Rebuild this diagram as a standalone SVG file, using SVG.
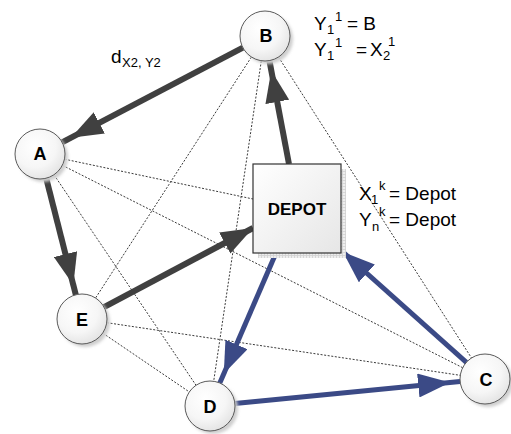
<svg xmlns="http://www.w3.org/2000/svg" width="511" height="434" viewBox="0 0 511 434">
<style>
.dot{stroke:#3a3a3a;stroke-width:1;stroke-dasharray:2 1.6;fill:none}
.thk{stroke:#404040;stroke-width:6;fill:none}
.blu{stroke:#3B4A86;stroke-width:5;fill:none}
.node{fill:url(#cg);stroke:#5a5a5a;stroke-width:1}
.shd{fill:#cfcfcf;filter:url(#blur)}
.lbl{font-family:"Liberation Sans",Arial,sans-serif;font-weight:bold;font-size:18px;text-anchor:middle;fill:#000}
.ann{font-family:"Liberation Sans",Arial,sans-serif;font-size:19px;fill:#000}
.sub{font-size:13px}
</style>
<defs>
<radialGradient id="cg" cx="0.4" cy="0.35" r="0.7">
<stop offset="0" stop-color="#ffffff"/>
<stop offset="0.6" stop-color="#f6f6f6"/>
<stop offset="1" stop-color="#e2e2e2"/>
</radialGradient>
<linearGradient id="bg" x1="0" y1="0" x2="1" y2="1">
<stop offset="0" stop-color="#ffffff"/>
<stop offset="1" stop-color="#e6e6e6"/>
</linearGradient>
<filter id="blur" x="-20%" y="-20%" width="140%" height="140%"><feGaussianBlur stdDeviation="1.5"/></filter>
<pattern id="grid" width="3" height="3" patternUnits="userSpaceOnUse">
<rect width="3" height="3" fill="#eeeeee"/>
<path d="M0,0.5H3M0.5,0V3" stroke="#d0d0d0" stroke-width="0.8"/>
</pattern>
<marker id="ahD" viewBox="0 0 44 24" markerWidth="44" markerHeight="24" refX="42" refY="12" orient="auto" markerUnits="userSpaceOnUse"><path d="M0,0 L32,12 L0,24 z" fill="#404040"/></marker>
<marker id="ahD0" viewBox="0 0 44 24" markerWidth="44" markerHeight="24" refX="32" refY="12" orient="auto" markerUnits="userSpaceOnUse"><path d="M0,0 L32,12 L0,24 z" fill="#404040"/></marker>
<marker id="ahB" viewBox="0 0 44 24" markerWidth="44" markerHeight="24" refX="42" refY="12" orient="auto" markerUnits="userSpaceOnUse"><path d="M0,0 L32,12 L0,24 z" fill="#3B4A86"/></marker>
<marker id="ahB0" viewBox="0 0 44 24" markerWidth="44" markerHeight="24" refX="32" refY="12" orient="auto" markerUnits="userSpaceOnUse"><path d="M0,0 L32,12 L0,24 z" fill="#3B4A86"/></marker>
</defs>
<rect width="511" height="434" fill="#ffffff"/>
<g id="connectors">
<line class="dot" x1="40" y1="154" x2="253" y2="199"/>
<line class="dot" x1="40" y1="154" x2="485" y2="379"/>
<line class="dot" x1="40" y1="154" x2="210" y2="406"/>
<line class="dot" x1="265" y1="36" x2="82" y2="319"/>
<line class="dot" x1="265" y1="36" x2="210" y2="406"/>
<line class="dot" x1="265" y1="36" x2="485" y2="379"/>
<line class="dot" x1="82" y1="319" x2="210" y2="406"/>
<line class="dot" x1="82" y1="319" x2="485" y2="379"/>
<line class="thk" x1="242.9" y1="47.6" x2="62.1" y2="142.4" marker-end="url(#ahD)"/>
<line class="thk" x1="46.2" y1="178.2" x2="75.8" y2="294.8" marker-end="url(#ahD)"/>
<line class="thk" x1="104" y1="307.2" x2="253" y2="228" marker-end="url(#ahD0)"/>
<line class="thk" x1="289" y1="164" x2="269.4" y2="60.6" marker-end="url(#ahD)"/>
<line class="blu" x1="276" y1="253" x2="219.8" y2="383" marker-end="url(#ahB)"/>
<line class="blu" x1="234.9" y1="403.6" x2="460.1" y2="381.4" marker-end="url(#ahB)"/>
<line class="blu" x1="466.4" y1="362.3" x2="343" y2="252" marker-end="url(#ahB0)"/>
</g>
<g id="node-DEPOT">
<rect x="258" y="169" width="88" height="89" fill="url(#grid)"/>
<rect x="253" y="164" width="88" height="89" fill="url(#bg)" stroke="#333333" stroke-width="1.2"/>
<text class="lbl" x="297" y="215" style="font-size:17px">DEPOT</text>
</g>
<g id="node-B">
<circle class="shd" cx="268" cy="39" r="25"/>
<circle class="node" cx="265" cy="36" r="25"/>
<text class="lbl" x="266" y="42">B</text>
</g>
<g id="node-A">
<circle class="shd" cx="43" cy="157" r="25"/>
<circle class="node" cx="40" cy="154" r="25"/>
<text class="lbl" x="40" y="160">A</text>
</g>
<g id="node-E">
<circle class="shd" cx="85" cy="322" r="25"/>
<circle class="node" cx="82" cy="319" r="25"/>
<text class="lbl" x="82" y="326">E</text>
</g>
<g id="node-D">
<circle class="shd" cx="213" cy="409" r="25"/>
<circle class="node" cx="210" cy="406" r="25"/>
<text class="lbl" x="210" y="413">D</text>
</g>
<g id="node-C">
<circle class="shd" cx="488" cy="382" r="25"/>
<circle class="node" cx="485" cy="379" r="25"/>
<text class="lbl" x="486" y="386">C</text>
</g>
<g id="annotations">
<text class="ann" x="314" y="30">Y<tspan class="sub" x="327" y="34">1</tspan><tspan class="sub" x="335" y="21">1</tspan><tspan x="347" y="30">= B</tspan></text>
<text class="ann" x="314" y="56">Y<tspan class="sub" x="327" y="60">1</tspan><tspan class="sub" x="335" y="47">1</tspan><tspan x="356" y="56">=</tspan><tspan x="370" y="56">X</tspan><tspan class="sub" x="383" y="60">2</tspan><tspan class="sub" x="388" y="46">1</tspan></text>
<text class="ann" x="111" y="63">d<tspan class="sub" x="122" y="67">X2, Y2</tspan></text>
<text class="ann" x="359" y="200">X<tspan class="sub" x="371" y="204">1</tspan><tspan class="sub" x="379" y="190">k</tspan><tspan x="389" y="200">= Depot</tspan></text>
<text class="ann" x="359" y="226">Y<tspan class="sub" x="372" y="231">n</tspan><tspan class="sub" x="379" y="216">k</tspan><tspan x="389" y="226">= Depot</tspan></text>
</g>
</svg>
